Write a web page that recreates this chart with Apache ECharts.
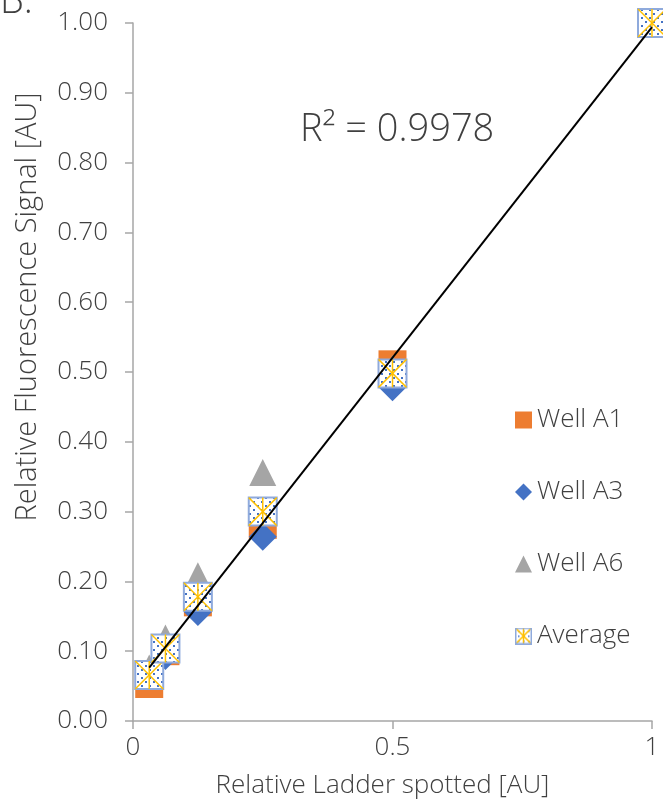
<!DOCTYPE html>
<html>
<head>
<meta charset="utf-8">
<script src="https://cdn.jsdelivr.net/npm/echarts@6/dist/echarts.min.js"></script>
<style>
  html, body { margin: 0; padding: 0; background: #fff; }
  #chart { width: 663px; height: 808px; }
</style>
</head>
<body>
<div id="chart"></div>
<script>
// relative amount of ladder spotted
const ladder = [0.03125, 0.0625, 0.125, 0.25, 0.5, 1]
const wellA1 = [0.053, 0.100, 0.170, 0.281, 0.511, 1.0]
const wellA3 = [0.069, 0.093, 0.156, 0.264, 0.478, 1.0]
const wellA6 = [0.076, 0.119, 0.208, 0.356, 0.505, 1.0]
const average = [0.066, 0.104, 0.178, 0.300, 0.498, 1.0]
const yTicks = [0, 0.1, 0.2, 0.3, 0.4, 0.5, 0.6, 0.7, 0.8, 0.9, 1.0]
const xTicks = [0, 0.5, 1]
const rSquaredLabel = 'R² = 0.9978'

const FONT = 'Open Sans'
const TXT = '#404040'

function pairs (ys) {
  return ladder.map((x, i) => [x, ys[i]])
}

// linear trend through the average series
function linearFit (xs, ys) {
  const n = xs.length
  const mx = xs.reduce((a, b) => a + b, 0) / n
  const my = ys.reduce((a, b) => a + b, 0) / n
  let sxy = 0
  let sxx = 0
  for (let i = 0; i < n; i++) {
    sxy += (xs[i] - mx) * (ys[i] - my)
    sxx += (xs[i] - mx) * (xs[i] - mx)
  }
  const slope = sxy / sxx
  return { slope: slope, intercept: my - slope * mx }
}
const fit = linearFit(ladder, average)
const xFirst = ladder[0]
const xLast = ladder[ladder.length - 1]
const trend = [
  [xFirst, fit.intercept + fit.slope * xFirst],
  [xLast, fit.intercept + fit.slope * xLast]
]

// dotted fill for the average marker
const dots = document.createElement('canvas')
dots.width = 8
dots.height = 8
const dctx = dots.getContext('2d')
dctx.fillStyle = '#ffffff'
dctx.fillRect(0, 0, 8, 8)
dctx.fillStyle = '#4472C4'
dctx.fillRect(1, 1, 2, 2)
dctx.fillRect(5, 5, 2, 2)

function avgIcon (size) {
  const c = document.createElement('canvas')
  c.width = size
  c.height = size
  const g = c.getContext('2d')
  g.fillStyle = '#fff'
  g.fillRect(0, 0, size, size)
  g.fillStyle = '#4472C4'
  for (let i = 3; i < size - 2; i += 5) {
    for (let j = 3; j < size - 2; j += 5) g.fillRect(i, j, 1.5, 1.5)
  }
  g.strokeStyle = '#FFC000'
  g.lineWidth = 1.5
  g.beginPath()
  g.moveTo(1, 1); g.lineTo(size - 1, size - 1)
  g.moveTo(size - 1, 1); g.lineTo(1, size - 1)
  g.moveTo(size / 2, 1); g.lineTo(size / 2, size - 1)
  g.stroke()
  g.strokeStyle = '#8FAADC'
  g.lineWidth = 1.5
  g.strokeRect(0.75, 0.75, size - 1.5, size - 1.5)
  return 'image://' + c.toDataURL()
}

function renderAverage (params, api) {
  const p = api.coord([api.value(0), api.value(1)])
  const h = 14
  const x0 = p[0] - h
  const y0 = p[1] - h
  const x1 = p[0] + h
  const y1 = p[1] + h
  const yellow = { stroke: '#FFC000', lineWidth: 1.5 }
  return {
    type: 'group',
    children: [
      { type: 'rect', shape: { x: x0, y: y0, width: 2 * h, height: 2 * h }, style: { fill: { type: 'pattern', image: dots, repeat: 'repeat' }, stroke: '#8FAADC', lineWidth: 2 } },
      { type: 'line', shape: { x1: x0, y1: y0, x2: x1, y2: y1 }, style: yellow },
      { type: 'line', shape: { x1: x1, y1: y0, x2: x0, y2: y1 }, style: yellow },
      { type: 'line', shape: { x1: p[0], y1: y0, x2: p[0], y2: y1 }, style: yellow }
    ]
  }
}

const labelStyle = { fontFamily: FONT, fontSize: 26, color: TXT, fontWeight: 300 }

const chart = echarts.init(document.getElementById('chart'))
const option = {
  animation: false,
  textStyle: { fontFamily: FONT, color: TXT },
  grid: { left: 133, right: 11, top: 23, bottom: 87 },
  xAxis: {
    type: 'value',
    min: xTicks[0],
    max: xTicks[xTicks.length - 1],
    interval: 0.5,
    name: 'Relative Ladder spotted [AU]',
    nameLocation: 'middle',
    nameGap: 52,
    nameTextStyle: Object.assign({}, labelStyle, { padding: [0, 20, 0, 0] }),
    axisLine: { lineStyle: { color: '#A6A6A6', width: 1.5 } },
    axisTick: { show: true, length: 8, lineStyle: { color: '#A6A6A6', width: 1.5 } },
    axisLabel: Object.assign({}, labelStyle, { margin: 14 }),
    splitLine: { show: false }
  },
  yAxis: {
    type: 'value',
    min: yTicks[0],
    max: yTicks[yTicks.length - 1],
    interval: 0.1,
    name: 'Relative Fluorescence Signal [AU]',
    nameLocation: 'middle',
    nameGap: 91,
    nameTextStyle: Object.assign({}, labelStyle, { fontSize: 29, padding: [0, 0, 0, 130] }),
    axisLine: { show: true, lineStyle: { color: '#A6A6A6', width: 1.5 } },
    axisTick: { show: true, length: 8, lineStyle: { color: '#A6A6A6', width: 1.5 } },
    axisLabel: Object.assign({}, labelStyle, { margin: 25, formatter: v => v.toFixed(2) }),
    splitLine: { show: false }
  },
  legend: {
    orient: 'vertical',
    left: 515,
    top: 407,
    itemGap: 46,
    itemWidth: 17,
    itemHeight: 17,
    padding: 0,
    textStyle: labelStyle,
    data: [
      { name: 'Well A1', icon: 'rect' },
      { name: 'Well A3', icon: 'diamond' },
      { name: 'Well A6', icon: 'triangle' },
      { name: 'Average', icon: avgIcon(17) }
    ]
  },
  graphic: [
    { type: 'text', left: 0, top: -17, style: { text: 'B.', font: '300 38px ' + FONT, fill: TXT } },
    { type: 'text', left: 300, top: 111, style: { text: rSquaredLabel, font: '300 38px ' + FONT, fill: TXT } }
  ],
  series: [
    { name: 'Well A1', type: 'scatter', symbol: 'rect', symbolSize: 28, clip: false, z: 2, itemStyle: { color: '#ED7D31', opacity: 1 }, data: pairs(wellA1) },
    { name: 'Well A3', type: 'scatter', symbol: 'diamond', symbolSize: 28, clip: false, z: 2, itemStyle: { color: '#4472C4', opacity: 1 }, data: pairs(wellA3) },
    { name: 'Well A6', type: 'scatter', symbol: 'triangle', symbolSize: 27, clip: false, z: 2, itemStyle: { color: '#A5A5A5', opacity: 1 }, data: pairs(wellA6) },
    { name: 'Average', type: 'custom', clip: false, z: 3, renderItem: renderAverage, itemStyle: { color: '#8FAADC' }, data: pairs(average) },
    { name: 'trend', type: 'line', showSymbol: false, symbol: 'none', clip: false, z: 5, lineStyle: { color: '#000', width: 2 }, data: trend }
  ]
}
chart.setOption(option)
</script>
</body>
</html>
